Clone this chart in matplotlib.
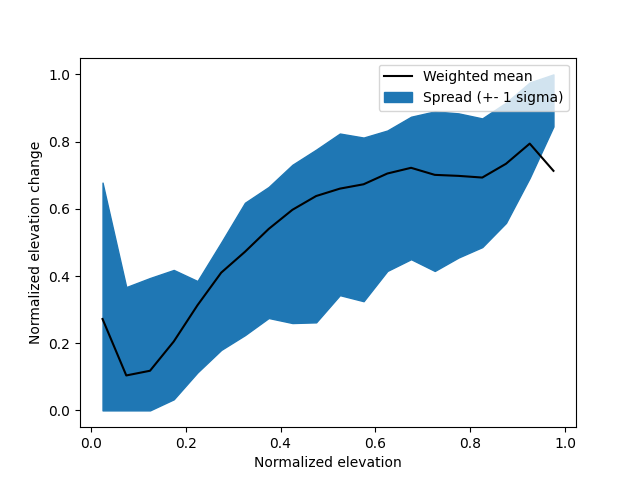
import matplotlib
matplotlib.use("Agg")
import matplotlib.pyplot as plt
import numpy as np

# bin centres of normalized elevation
elevation = [0.025, 0.075, 0.125, 0.175, 0.225, 0.275, 0.325, 0.375, 0.425, 0.475,
             0.525, 0.575, 0.625, 0.675, 0.725, 0.775, 0.825, 0.875, 0.925, 0.975]

weighted_mean = [0.272, 0.104, 0.118, 0.205, 0.313, 0.410, 0.472, 0.540, 0.597, 0.638,
                 0.660, 0.673, 0.705, 0.722, 0.701, 0.698, 0.693, 0.734, 0.794, 0.713]

spread_low = [0.000, 0.000, 0.000, 0.033, 0.113, 0.180, 0.224, 0.275, 0.260, 0.262,
              0.343, 0.325, 0.415, 0.450, 0.415, 0.455, 0.486, 0.558, 0.692, 0.845]

spread_high = [0.678, 0.367, 0.394, 0.418, 0.385, 0.500, 0.618, 0.665, 0.731, 0.776,
               0.824, 0.812, 0.833, 0.874, 0.890, 0.884, 0.869, 0.916, 0.976, 1.000]


def main():
    fig, ax = plt.subplots(figsize=(6.4, 4.8), dpi=100)

    ax.plot(elevation, weighted_mean, color="black", label="Weighted mean")
    ax.fill_between(elevation, spread_low, spread_high, color="tab:blue",
                    label="Spread (+- 1 sigma)")

    ax.set_xlabel("Normalized elevation")
    ax.set_ylabel("Normalized elevation change")
    ax.legend(loc="upper right")

    fig.savefig("out.png")


if __name__ == "__main__":
    main()
